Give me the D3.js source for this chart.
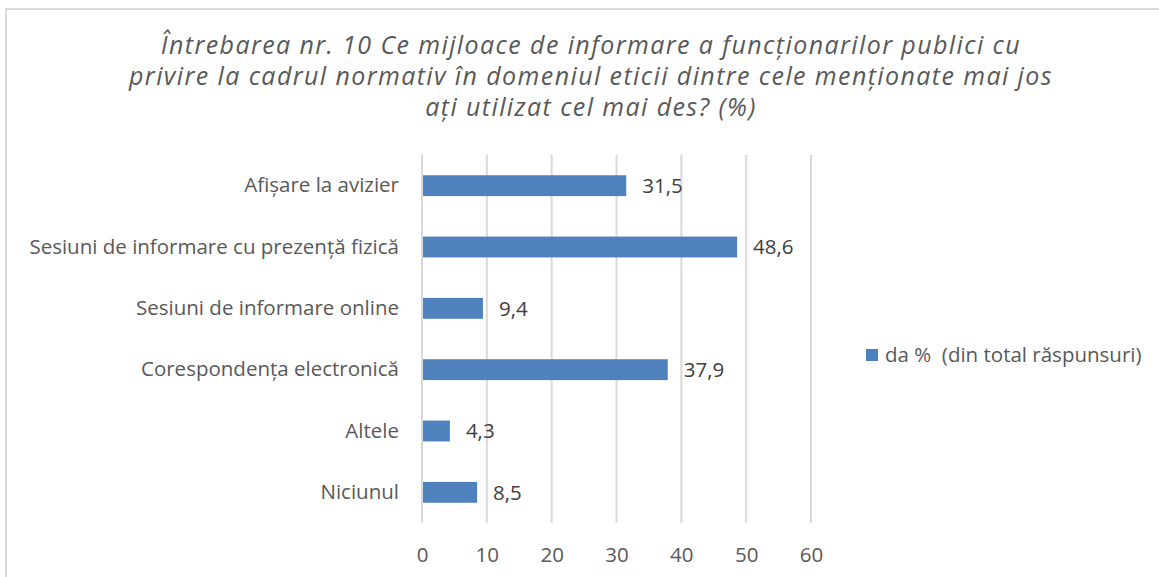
<!DOCTYPE html>
<html>
<head>
<meta charset="utf-8">
<script src="https://cdn.jsdelivr.net/npm/d3@7"></script>
<style>
body{margin:0;background:#fff;}
text{font-family:"Open Sans",sans-serif;}
</style>
</head>
<body>
<svg id="chart" width="1159" height="577"></svg>
<script>
// data
var categories=["Afișare la avizier","Sesiuni de informare cu prezență fizică","Sesiuni de informare online","Corespondența electronică","Altele","Niciunul"];
var values=[31.5,48.6,9.4,37.9,4.3,8.5];
var valueLabels=["31,5","48,6","9,4","37,9","4,3","8,5"];
var tickValues=[0,10,20,30,40,50,60];
var titleLines=["Întrebarea nr. 10 Ce mijloace de informare a funcționarilor publici cu","privire la cadrul normativ în domeniul eticii dintre cele menționate mai jos","ați utilizat cel mai des? (%)"];
var seriesName="da %  (din total răspunsuri)";

var svg=d3.select("#chart");
var barColor="#4f81bd";
var fontSize="20.5px";

//frame
svg.append("rect")
	.attr("x",6).attr("y",9)
	.attr("width",1170).attr("height",600)
	.attr("fill","none")
	.attr("stroke","#d9d9d9")
	.attr("stroke-width",2);

//title
svg.append("g").selectAll("text")
	.data(titleLines)
	.enter().append("text")
	.attr("x",591)
	.attr("y",function(d,i){return 54+i*31;})
	.attr("text-anchor","middle")
	.attr("font-style","italic")
	.attr("font-size","25px")
	.attr("letter-spacing","1.4px")
	.attr("fill","#595959")
	.text(function(d){return d;});

var x=d3.scaleLinear().domain([0,60]).range([422,811]);
var y=d3.scaleBand().domain(categories).range([155,523]).paddingInner(0.66).paddingOuter(0.33);

//grid
svg.append("g").selectAll("line")
	.data(tickValues)
	.enter().append("line")
	.attr("x1",function(d){return x(d);})
	.attr("x2",function(d){return x(d);})
	.attr("y1",155).attr("y2",523)
	.attr("stroke","#d9d9d9")
	.attr("stroke-width",2);

//x axis labels
var xAxis=d3.axisBottom(x).tickValues(tickValues).tickSize(0).tickPadding(0);
var gx=svg.append("g").attr("transform","translate(0,547)").call(xAxis);
gx.select(".domain").remove();
gx.selectAll("text")
	.attr("font-family","Open Sans")
	.attr("font-size",fontSize)
	.attr("fill","#595959");

//category labels
var yAxis=d3.axisLeft(y).tickSize(0).tickPadding(0);
var gy=svg.append("g").attr("transform","translate(399,0)").call(yAxis);
gy.select(".domain").remove();
gy.selectAll("text")
	.attr("font-family","Open Sans")
	.attr("font-size",fontSize)
	.attr("fill","#595959");

//bars
svg.append("g").selectAll("rect")
	.data(values)
	.enter().append("rect")
	.attr("x",x(0)+1)
	.attr("y",function(d,i){return y(categories[i]);})
	.attr("width",function(d){return x(d)-x(0)-1;})
	.attr("height",y.bandwidth())
	.attr("fill",barColor);

//value labels
svg.append("g").selectAll("text")
	.data(values)
	.enter().append("text")
	.attr("x",function(d){return x(d)+16;})
	.attr("y",function(d,i){return y(categories[i])+y.bandwidth()/2;})
	.attr("dy","0.35em")
	.attr("font-size",fontSize)
	.attr("fill","#404040")
	.text(function(d,i){return valueLabels[i];});

//legend
var legend=svg.append("g").attr("transform","translate(866,349)");
legend.append("rect").attr("width",12).attr("height",12).attr("fill",barColor);
legend.append("text")
	.attr("x",19).attr("y",6).attr("dy","0.35em")
	.attr("font-size",fontSize)
	.attr("fill","#595959")
	.style("white-space","pre")
	.text(seriesName);
</script>
</body>
</html>
